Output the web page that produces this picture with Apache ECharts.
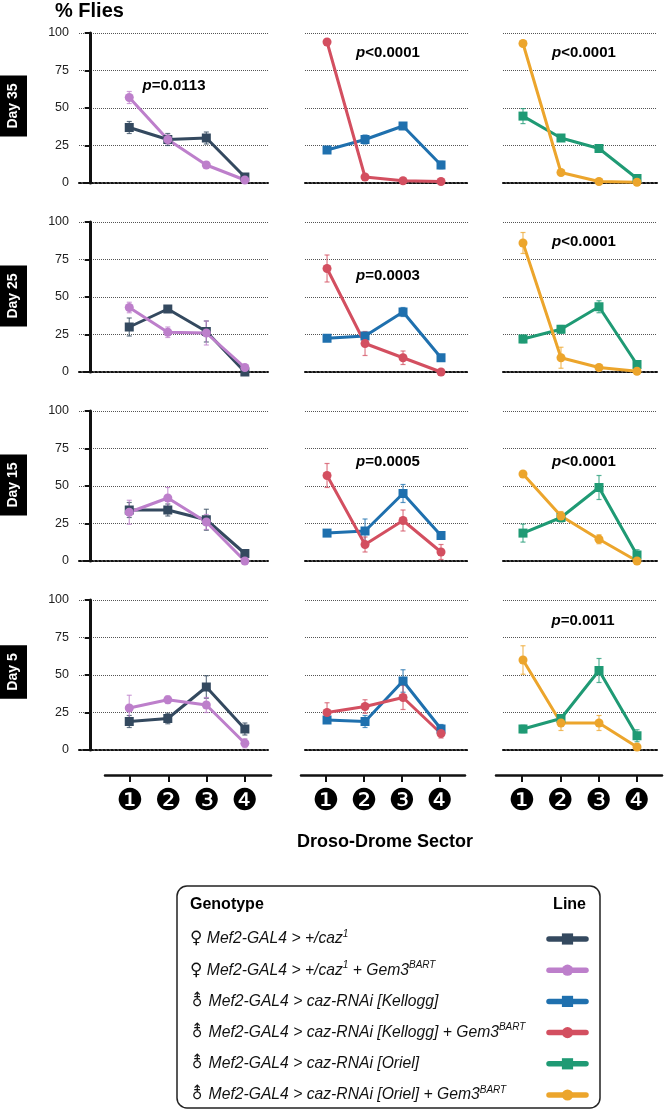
<!DOCTYPE html>
<html>
<head>
<meta charset="utf-8">
<script src="https://cdn.jsdelivr.net/npm/echarts@6/dist/echarts.min.js"></script>
<style>
html, body { margin: 0; padding: 0; background: #fff; }
#chart { width: 664px; height: 1111px; }
</style>
</head>
<body>
<div id="chart"></div>
<script>
// sectors of the Droso-Drome
const sectors = [1, 2, 3, 4];
const sectorLabels = ['❶', '❷', '❸', '❹'];
const dayLabels = ['Day 35', 'Day 25', 'Day 15', 'Day 5'];

const genotypeNames = [
    '♀ Mef2-GAL4 > +/caz1',
    '♀ Mef2-GAL4 > +/caz1 + Gem3BART',
    '⚨ Mef2-GAL4 > caz-RNAi [Kellogg]',
    '⚨ Mef2-GAL4 > caz-RNAi [Kellogg] + Gem3BART',
    '⚨ Mef2-GAL4 > caz-RNAi [Oriel]',
    '⚨ Mef2-GAL4 > caz-RNAi [Oriel] + Gem3BART'
];
const genotypeLabels = [
    '{g|♀}{i| Mef2-GAL4 > +/caz}{sup|1}',
    '{g|♀}{i| Mef2-GAL4 > +/caz}{sup|1}{i| + Gem3}{sup|BART}',
    '{g|⚨}{i| Mef2-GAL4 > caz-RNAi [Kellogg]}',
    '{g|⚨}{i| Mef2-GAL4 > caz-RNAi [Kellogg] + Gem3}{sup|BART}',
    '{g|⚨}{i| Mef2-GAL4 > caz-RNAi [Oriel]}',
    '{g|⚨}{i| Mef2-GAL4 > caz-RNAi [Oriel] + Gem3}{sup|BART}'
];
const genotypeColors = ['#34495f', '#bd7fcb', '#1f70ae', '#d34f60', '#1f9a74', '#eca52c'];
const genotypeSymbols = ['rect', 'circle', 'rect', 'circle', 'rect', 'circle'];

// % flies per sector, rows: day 35, 25, 15, 5
const caz1 = [[37, 29, 30, 4], [30, 42, 27, 0], [34, 34, 27.5, 5], [19, 21, 42, 14]];
const caz1Sem = [[4, 4, 4, 1], [6, 1.5, 7, 1], [5, 4, 7, 2.5], [4, 3.5, 7.5, 4]];
const caz1Gem = [[57, 29, 12, 2], [43, 26.5, 26, 3], [32.5, 42, 26, 0], [28, 33.5, 30, 4.5]];
const caz1GemSem = [[4, 3, 2, 1], [3.5, 3.5, 8, 1], [8, 7, 5, 0.5], [8.5, 2.5, 5, 3]];
const kellogg = [[22, 29, 38, 12], [22.5, 24, 40, 9.5], [18.6, 20, 45, 17], [20, 19, 46, 14]];
const kelloggSem = [[1.5, 3, 1.5, 2.5], [1, 1, 3, 1.5], [1.5, 8, 6, 2.5], [2, 4, 7.5, 3]];
const kelloggGem = [[94, 4, 1.5, 1], [69, 19, 9.5, 0], [57, 11, 27, 6], [25, 29, 35, 11]];
const kelloggGemSem = [[1, 1, 0.5, 0.5], [9, 8, 4.5, 0.5], [8, 5, 7, 5], [6.5, 4.5, 8, 3]];
const oriel = [[44.6, 30, 23, 3], [22, 28.5, 43.5, 5], [18.6, 29, 49, 4], [14, 21, 53, 9.5]];
const orielSem = [[5, 2, 2.5, 1.5], [2.5, 2.5, 4, 1.5], [6, 3, 8, 3.5], [2.5, 2, 8, 4]];
const orielGem = [[93, 7, 1, 0.5], [86, 9.5, 3, 0.5], [58, 30, 14.5, 0], [60, 18, 18, 2]];
const orielGemSem = [[1, 1, 0.5, 0.5], [7, 7, 2, 0.5], [1, 3, 3, 0.5], [9.5, 5, 5, 1]];

const pValues = [
    ['p=0.0113', 'p<0.0001', 'p<0.0001'],
    [null, 'p=0.0003', 'p<0.0001'],
    [null, 'p=0.0005', 'p<0.0001'],
    [null, null, 'p=0.0011']
];

const means = [caz1, caz1Gem, kellogg, kelloggGem, oriel, orielGem];
const sems = [caz1Sem, caz1GemSem, kelloggSem, kelloggGemSem, orielSem, orielGemSem];

const FONT = '"Liberation Sans", Helvetica, Arial, sans-serif';

// layout
const rowTops = [33, 222, 411, 600];
const rowH = 150;
const cols = [
    { left: 79, width: 189, min: -0.304, max: 4.6 },
    { left: 305, width: 163, min: 0.42, max: 4.71 },
    { left: 503, width: 154, min: 0.474, max: 4.526 }
];
const bottomAxes = [
    { left: 105, width: 166, min: 0.348, max: 4.679 },
    { left: 301, width: 164, min: 0.342, max: 4.658 },
    { left: 496, width: 166, min: 0.322, max: 4.653 }
];
const pPos = [
    [[174, 86], [388, 53], [584, 53]],
    [null, [388, 276], [584, 242]],
    [null, [388, 462], [584, 462]],
    [null, null, [583, 621]]
];
const dayCenters = [106, 296, 485, 672];

let grids = [], xAxes = [], yAxes = [], series = [];

for (let r = 0; r < 4; r++) {
    for (let c = 0; c < 3; c++) {
        const gi = grids.length;
        grids.push({ left: cols[c].left, top: rowTops[r], width: cols[c].width, height: rowH, outerBoundsMode: 'none' });
        xAxes.push({
            gridIndex: gi, type: 'value', min: cols[c].min, max: cols[c].max,
            axisLine: { show: true, lineStyle: { color: '#111', width: 2, type: 'dotted' } },
            axisTick: { show: false }, axisLabel: { show: false }, splitLine: { show: false }
        });
        yAxes.push({
            gridIndex: gi, type: 'value', min: 0, max: 100, interval: 25,
            axisLine: { show: c === 0, lineStyle: { color: '#111', width: 3 } },
            axisTick: { show: c === 0, length: 6, lineStyle: { color: '#111', width: 2 } },
            axisLabel: { show: c === 0, fontSize: 12.5, fontFamily: FONT, color: '#222', margin: 10 },
            splitLine: { show: true, lineStyle: { color: '#555', width: 1, type: 'dotted' } }
        });
        [2 * c, 2 * c + 1].forEach(g => {
            const color = genotypeColors[g];
            series.push({
                type: 'custom',
                xAxisIndex: gi, yAxisIndex: gi,
                z: 2,
                silent: true,
                data: sectors.map((s, i) => [s, means[g][r][i] - sems[g][r][i], means[g][r][i] + sems[g][r][i]]),
                renderItem: (params, api) => {
                    const x = api.value(0);
                    const lo = api.coord([x, api.value(1)]);
                    const hi = api.coord([x, api.value(2)]);
                    const cap = 2.5;
                    const st = { stroke: color, lineWidth: 1.2, opacity: 0.75 };
                    return {
                        type: 'group', children: [
                            { type: 'line', shape: { x1: lo[0], y1: lo[1], x2: hi[0], y2: hi[1] }, style: st },
                            { type: 'line', shape: { x1: lo[0] - cap, y1: lo[1], x2: lo[0] + cap, y2: lo[1] }, style: st },
                            { type: 'line', shape: { x1: hi[0] - cap, y1: hi[1], x2: hi[0] + cap, y2: hi[1] }, style: st }
                        ]
                    };
                }
            });
            series.push({
                name: genotypeNames[g],
                type: 'line',
                xAxisIndex: gi, yAxisIndex: gi,
                z: 3,
                data: sectors.map((s, i) => [s, means[g][r][i]]),
                symbol: genotypeSymbols[g],
                symbolSize: 9,
                lineStyle: { color: color, width: 3 },
                itemStyle: { color: color, borderWidth: 0 }
            });
        });
    }
}

// bottom sector axes
for (let c = 0; c < 3; c++) {
    const gi = grids.length;
    grids.push({ left: bottomAxes[c].left, top: 774, width: bottomAxes[c].width, height: 1, outerBoundsMode: 'none' });
    xAxes.push({
        gridIndex: gi, type: 'value', min: bottomAxes[c].min, max: bottomAxes[c].max,
        axisLine: { show: true, lineStyle: { color: '#111', width: 2.5 } },
        axisTick: { show: true, customValues: sectors, length: 7, lineStyle: { color: '#111', width: 2 } },
        axisLabel: {
            show: true, customValues: sectors, margin: 12,
            fontSize: 30, fontFamily: '"DejaVu Sans"', color: '#000',
            formatter: v => sectorLabels[sectors.indexOf(v)]
        },
        splitLine: { show: false }
    });
    yAxes.push({ gridIndex: gi, type: 'value', min: 0, max: 1, show: false });
}

let graphics = [];
graphics.push({ type: 'text', x: 55, y: 11, style: { text: '% Flies', font: 'bold 20px ' + FONT, fill: '#000', verticalAlign: 'middle' } });
dayLabels.forEach((d, r) => {
    graphics.push({
        type: 'text', x: 13.5, y: dayCenters[r], rotation: Math.PI / 2,
        style: {
            text: d, fontSize: 14, fontWeight: 'bold', fontFamily: FONT, fill: '#fff',
            backgroundColor: '#000', padding: [5, 8], lineHeight: 17, align: 'center', verticalAlign: 'middle'
        }
    });
});
pValues.forEach((row, r) => row.forEach((p, c) => {
    if (!p) return;
    graphics.push({
        type: 'text', x: pPos[r][c][0], y: pPos[r][c][1],
        style: {
            text: '{p|p}{t|' + p.slice(1) + '}', fill: '#000', align: 'center', verticalAlign: 'middle',
            rich: {
                p: { fontStyle: 'italic', fontWeight: 'bold', fontSize: 15, fontFamily: FONT, fill: '#000' },
                t: { fontWeight: 'bold', fontSize: 15, fontFamily: FONT, fill: '#000' }
            }
        }
    });
}));
graphics.push({ type: 'text', x: 385, y: 842, style: { text: 'Droso-Drome Sector', font: 'bold 18px ' + FONT, fill: '#000', align: 'center', verticalAlign: 'middle' } });
graphics.push({ type: 'rect', shape: { x: 177, y: 886, width: 423, height: 222, r: 10 }, style: { fill: 'none', stroke: '#222', lineWidth: 1.5 } });
graphics.push({ type: 'text', x: 190, y: 905, style: { text: 'Genotype', font: 'bold 16px ' + FONT, fill: '#000', verticalAlign: 'middle' } });
graphics.push({ type: 'text', x: 586, y: 905, style: { text: 'Line', font: 'bold 16px ' + FONT, fill: '#000', align: 'right', verticalAlign: 'middle' } });

const option = {
    animation: false,
    backgroundColor: '#fff',
    grid: grids,
    xAxis: xAxes,
    yAxis: yAxes,
    series: series,
    graphic: graphics,
    legend: {
        data: genotypeNames,
        orient: 'vertical',
        left: 190, top: 929,
        align: 'right',
        itemWidth: 37, itemHeight: 14, itemGap: 11.2,
        padding: 0,
        selectedMode: false,
        lineStyle: { width: 5.5, cap: 'round' },
        formatter: name => genotypeLabels[genotypeNames.indexOf(name)],
        textStyle: {
            width: 354, lineHeight: 20, color: '#111', align: 'left',
            rich: {
                g: { fontFamily: '"DejaVu Sans"', fontSize: 17, color: '#111', lineHeight: 20, align: 'left' },
                i: { fontFamily: FONT, fontStyle: 'italic', fontSize: 15.7, color: '#111', lineHeight: 20, align: 'left' },
                sup: { fontFamily: FONT, fontStyle: 'italic', fontSize: 10, color: '#111', verticalAlign: 'top', lineHeight: 20, align: 'left' }
            }
        }
    }
};

const myChart = echarts.init(document.getElementById('chart'));
myChart.setOption(option);
window.addEventListener('resize', () => {
    myChart.resize();
});
</script>
</body>
</html>
